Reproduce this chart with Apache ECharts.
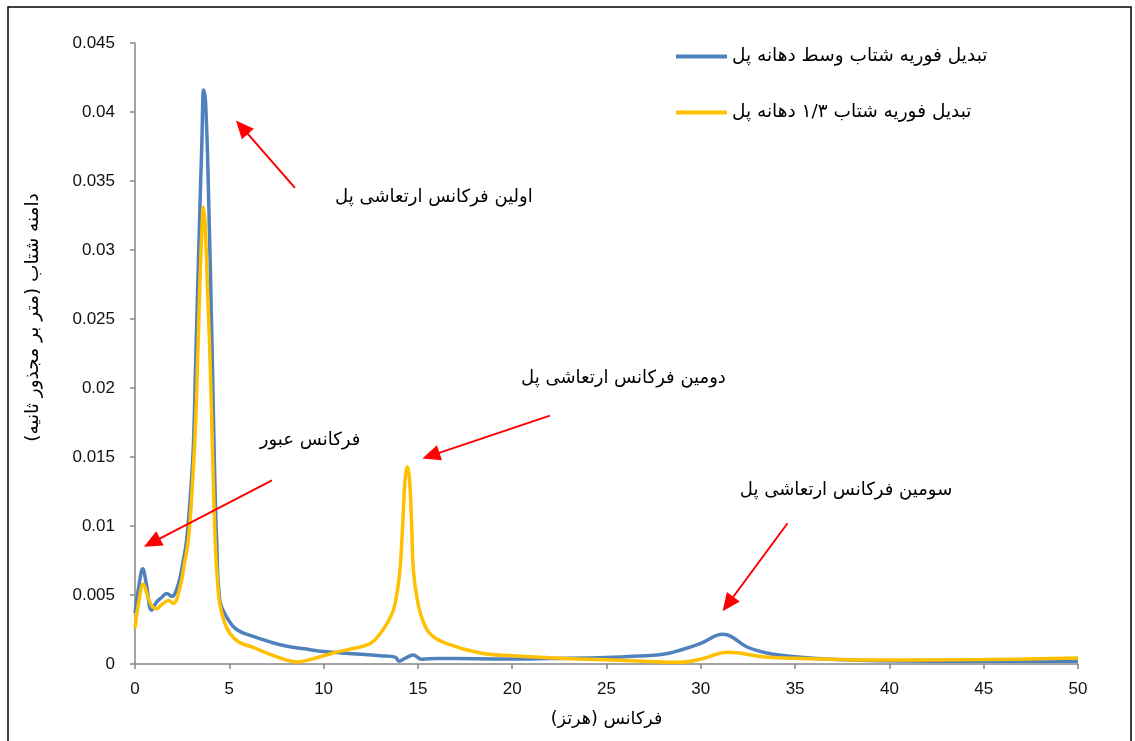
<!DOCTYPE html>
<html>
<head>
<meta charset="utf-8">
<script src="https://cdn.jsdelivr.net/npm/echarts@6/dist/echarts.min.js"></script>
<style>
  html, body { margin: 0; padding: 0; background: #fff; }
  #chart { width: 1135px; height: 741px; }
</style>
</head>
<body>
<div id="chart"></div>
<script>
// Fourier spectra of bridge acceleration: mid-span and one-third span
const midFreq = [0, 0.2, 0.41, 0.6, 0.88, 1.15, 1.4, 1.68, 1.95, 2.3, 2.56, 2.74, 2.95, 3.1, 3.22, 3.4, 3.55, 3.64, 3.75, 3.9, 4.1, 4.22, 4.33, 4.5, 4.86, 5.39, 6.27, 7.16, 8, 9, 10, 11, 12, 13, 13.8, 14.0, 14.3, 14.75, 15.2, 16, 18, 20, 22, 25, 27, 28, 28.9, 30, 31.16, 31.6, 32.43, 33.5, 35, 36.85, 39.5, 45, 50];
const midAmp = [0.0037, 0.0056, 0.0069, 0.0058, 0.0039, 0.0045, 0.0048, 0.0051, 0.0049, 0.0058, 0.0075, 0.009, 0.0125, 0.016, 0.022, 0.031, 0.038, 0.0416, 0.0405, 0.034, 0.022, 0.014, 0.009, 0.0046, 0.0034, 0.0025, 0.0020, 0.0016, 0.0013, 0.0011, 0.0009, 0.0008, 0.0007, 0.0006, 0.0005, 0.0002, 0.0004, 0.00065, 0.00035, 0.0004, 0.00038, 0.00036, 0.0004, 0.00047, 0.0006, 0.0007, 0.001, 0.0015, 0.00215, 0.002, 0.00125, 0.0008, 0.00053, 0.00034, 0.00024, 0.0002, 0.0002];

const thirdFreq = [0, 0.2, 0.44, 0.7, 0.9, 1.15, 1.41, 1.77, 2.03, 2.39, 2.65, 2.83, 3.0, 3.2, 3.32, 3.45, 3.55, 3.62, 3.72, 3.85, 3.98, 4.1, 4.25, 4.4, 4.5, 4.75, 5.04, 5.5, 6.27, 7.16, 8, 8.6, 9.5, 10.5, 11.5, 12.5, 13.0, 13.35, 13.7, 13.9, 14.05, 14.19, 14.32, 14.44, 14.56, 14.67, 14.76, 14.95, 15.2, 15.64, 16.5, 18.3, 20, 22, 25, 27, 28.9, 29.96, 31.46, 33.3, 35, 39.5, 45, 50];
const thirdAmp = [0.0026, 0.0045, 0.0058, 0.0048, 0.0042, 0.0040, 0.0043, 0.0046, 0.0044, 0.0056, 0.0075, 0.009, 0.012, 0.017, 0.022, 0.028, 0.0315, 0.0331, 0.0318, 0.027, 0.022, 0.016, 0.009, 0.0055, 0.0043, 0.003, 0.0022, 0.0016, 0.0012, 0.0007, 0.0003, 0.00015, 0.0004, 0.0008, 0.0011, 0.0015, 0.0022, 0.0029, 0.0039, 0.0052, 0.0068, 0.010, 0.0133, 0.0143, 0.0133, 0.010, 0.0068, 0.0048, 0.0034, 0.0022, 0.0015, 0.0008, 0.0006, 0.00045, 0.0003, 0.0002, 0.00012, 0.00034, 0.00085, 0.00053, 0.00041, 0.00029, 0.00032, 0.00043];

const seriesNames = ['تبدیل فوریه شتاب وسط دهانه پل', 'تبدیل فوریه شتاب ۱/۳ دهانه پل'];
const xAxisName = 'فرکانس (هرتز)\u200F';
const yAxisName = 'دامنه شتاب (متر بر مجذور ثانیه)\u200F';

// Callout texts and the points they sit at (frequency, amplitude)
const calloutText = ['اولین فرکانس ارتعاشی پل', 'فرکانس عبور', 'دومین فرکانس ارتعاشی پل', 'سومین فرکانس ارتعاشی پل'];
const calloutAt = [[15.85, 0.0338], [9.28, 0.0162], [25.9, 0.0207], [37.7, 0.0126]];

// Arrows: tail point -> head point
const arrowTail = [[8.48, 0.0345], [7.26, 0.0133], [22.0, 0.0180], [34.6, 0.0102]];
const arrowHead = [[5.67, 0.0389], [0.90, 0.0088], [15.69, 0.0151], [31.44, 0.00435]];

const pairs = (xs, ys) => xs.map((x, i) => [x, ys[i]]);
const arabicFont = "'DejaVu Sans', sans-serif";
const numFont = "'Liberation Sans', Arial, sans-serif";
const axisGrey = '#868686';

const chart = echarts.init(document.getElementById('chart'), null, { renderer: 'canvas' });

chart.setOption({
  animation: false,
  backgroundColor: '#fff',
  grid: { left: 135, right: 57, top: 43, bottom: 77 },
  legend: {
    data: seriesNames,
    orient: 'vertical',
    left: 676,
    top: 47,
    padding: 0,
    itemWidth: 51,
    itemHeight: 4,
    itemGap: 37,
    icon: 'rect',
    selectedMode: false,
    textStyle: { fontFamily: arabicFont, fontSize: 18.5, color: '#000' }
  },
  xAxis: {
    type: 'value',
    min: 0, max: 50, interval: 5,
    name: xAxisName,
    nameLocation: 'middle',
    nameGap: 46,
    nameTextStyle: { fontFamily: arabicFont, fontSize: 17.5, color: '#000' },
    axisLine: { show: true, lineStyle: { color: axisGrey, width: 1.5 } },
    axisTick: { show: true, inside: false, length: 5, lineStyle: { color: axisGrey, width: 1.5 } },
    axisLabel: { fontFamily: numFont, fontSize: 17, color: '#111', margin: 17 },
    splitLine: { show: false }
  },
  yAxis: {
    type: 'value',
    min: 0, max: 0.045, interval: 0.005,
    name: yAxisName,
    nameLocation: 'middle',
    nameGap: 92,
    nameRotate: 90,
    nameTextStyle: { fontFamily: arabicFont, fontSize: 18.5, color: '#000', padding: [0, 0, 0, 72] },
    axisLine: { show: true, lineStyle: { color: axisGrey, width: 1.5 } },
    axisTick: { show: true, inside: false, length: 5, lineStyle: { color: axisGrey, width: 1.5 } },
    axisLabel: {
      fontFamily: numFont, fontSize: 17, color: '#111', margin: 20,
      formatter: v => String(parseFloat(v.toFixed(4)))
    },
    splitLine: { show: false }
  },
  series: [
    {
      name: seriesNames[0],
      type: 'line',
      data: pairs(midFreq, midAmp),
      showSymbol: false,
      smooth: 0.4,
      color: '#4F81BD',
      lineStyle: { color: '#4F81BD', width: 3.5 },
      z: 2
    },
    {
      name: seriesNames[1],
      type: 'line',
      data: pairs(thirdFreq, thirdAmp),
      showSymbol: false,
      smooth: 0.4,
      color: '#FFC000',
      lineStyle: { color: '#FFC000', width: 3.5 },
      z: 3
    },
    {
      name: 'callouts',
      type: 'line',
      data: [],
      silent: true,
      markLine: {
        silent: true,
        animation: false,
        symbol: ['none', 'triangle'],
        symbolSize: [16, 18],
        lineStyle: { color: '#FF0000', width: 2, type: 'solid' },
        itemStyle: { color: '#FF0000' },
        label: { show: false },
        data: arrowTail.map((t, i) => [{ coord: t }, { coord: arrowHead[i] }])
      },
      markPoint: {
        silent: true,
        animation: false,
        symbol: 'circle',
        symbolSize: 0,
        label: {
          show: true,
          position: 'inside',
          formatter: '{b}',
          fontFamily: arabicFont,
          fontSize: 18,
          color: '#000'
        },
        data: calloutText.map((t, i) => ({ name: t, coord: calloutAt[i], value: 0 }))
      }
    }
  ],
  graphic: [
    {
      type: 'rect',
      silent: true,
      shape: { x: 8, y: 7, width: 1123, height: 745 },
      style: { fill: 'none', stroke: '#000', lineWidth: 1.5 }
    }
  ]
});
</script>
</body>
</html>
